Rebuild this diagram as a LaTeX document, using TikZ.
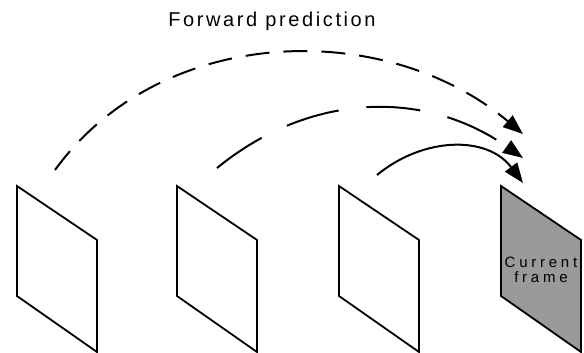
\documentclass[tikz,border=0pt]{standalone}
\usepackage{fontspec}
\setmainfont{Liberation Sans}
\usetikzlibrary{arrows.meta, positioning, calc}
\definecolor{framegray}{HTML}{9A9A9A}
\tikzset{
    frame/.style={draw=black, line width=1.8pt, line join=miter},
    curframe/.style={frame, fill=framegray},
    predarrow/.style={-{Triangle[length=20pt, width=15pt]}, line width=2pt, draw=black},
    longdash/.style={predarrow, dash pattern=on 24pt off 14pt},
    wideDash/.style={predarrow, dash pattern=on 54pt off 28pt},
    title/.style={font=\fontsize{20}{22}\selectfont\addfontfeature{LetterSpace=13}},
    framelabel/.style={font=\fontsize{15}{15}\selectfont\addfontfeature{LetterSpace=25},
        align=center, text=black}
}

\begin{document}
\begin{tikzpicture}[x=1pt, y=-1pt]
\useasboundingbox (0,0) rectangle (584,353);

% === TITLE ===
\node (title) [title, anchor=base] at (272,27) {Forward prediction};

% === REFERENCE FRAMES ===
\foreach \fx/\fname in {17/fa, 177/fb, 339/fc} {
    \coordinate (\fname) at (\fx,186);
    \draw [frame] (\fname) -- ++(80,54) -- ++(0,112) -- ++(-80,-56) -- cycle;
}

% === CURRENT FRAME ===
\coordinate (fd) at (501,186);
\draw [curframe] (fd) -- ++(80,54) -- ++(0,112) -- ++(-80,-56) -- cycle;
\node (cur) [framelabel] at ($(fd)+(40,84)$) {Current\\frame};

% === ARC END POINTS ===
\coordinate (sa) at (55,170);
\coordinate (sb) at (217,168);
\coordinate (sc) at (377,175);
\coordinate (ta) at (523,134);
\coordinate (tb) at (523,158);
\coordinate (tc) at (523,183);

% === PREDICTION ARROWS ===
\draw [longdash] (sa) .. controls (161,24) and (385,18) .. (ta);
\draw [wideDash] (sb) .. controls (310,92) and (425,89) .. (tb);
\draw [predarrow] (sc) .. controls (423,137) and (487,135) .. (tc);

\end{tikzpicture}
\end{document}
